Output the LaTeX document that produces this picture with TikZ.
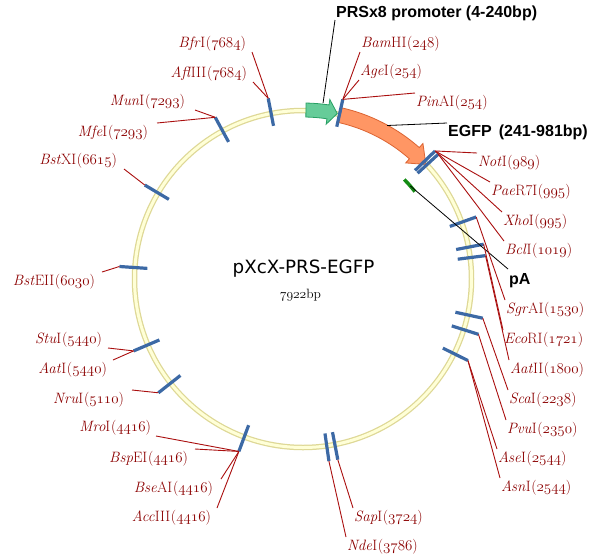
\RequirePackage{fix-cm}
\documentclass[tikz,border=0pt]{standalone}
\usepackage{fontspec}
\newfontfamily\titlefont{DejaVu Sans}
\newfontfamily\featfont{Liberation Sans}
\definecolor{siteText}{RGB}{140,0,0}
\definecolor{leadRed}{RGB}{170,15,15}
\definecolor{tickBlue}{RGB}{60,105,165}
\definecolor{circEdge}{RGB}{222,216,150}
\definecolor{circFill}{RGB}{255,255,215}
\definecolor{promFill}{RGB}{102,204,153}
\definecolor{promEdge}{RGB}{40,160,100}
\definecolor{egfpFill}{RGB}{255,150,100}
\definecolor{egfpEdge}{RGB}{220,100,50}
\definecolor{paGreen}{RGB}{20,140,20}
\newcommand\enz[3]{\textit{#1}#2\kern0.6pt(\legacyoldstylenums{#3})}
\newcommand\sitetick[2]{%
  \coordinate (#1i) at ({#2-90}:156);
  \coordinate (#1o) at ({#2-90}:184);
  \draw[tickline] (#1i) -- (#1o);}
\tikzset{
  sitetxt/.style={inner xsep=1pt, inner ysep=1.5pt, text height=12.3pt, text depth=2.9pt,
    text=siteText, font=\fontsize{15}{17}\selectfont},
  rsite/.style={sitetxt, outer sep=0pt},
  lsite/.style={sitetxt, outer ysep=0pt, outer xsep=5pt},
  tickline/.style={line width=3.2pt, draw=tickBlue},
  leader/.style={draw=leadRed, line width=0.9pt},
  featleader/.style={draw=black, line width=0.8pt},
  featlabel/.style={font=\featfont\bfseries\fontsize{16}{19}\selectfont, inner sep=1pt,
    text height=12pt, text depth=1.5pt},
  promstyle/.style={fill=promFill, draw=promEdge, line width=0.8pt},
  egfpstyle/.style={fill=egfpFill, draw=egfpEdge, line width=0.8pt},
}
\begin{document}
\begin{tikzpicture}[x=1pt,y=-1pt]
\useasboundingbox (0,0) rectangle (600,558);
\fill[white] (0,0) rectangle (600,558);
\begin{scope}[shift={(303,279)}]
  % backbone
  \draw[line width=5.5pt, circEdge] (0,0) circle (168.5);
  \draw[line width=3pt, circFill] (0,0) circle (168.5);
  % PRSx8 promoter arrow
  \filldraw[promstyle] (-89:176) arc[start angle=-89, end angle=-81.5, radius=176]
    -- (-81.5:181.5) -- (-78.3:169) -- (-81.5:156.5) -- (-81.5:162)
    arc[start angle=-81.5, end angle=-89, radius=162] -- cycle;
  % EGFP arrow
  \filldraw[egfpstyle] (-77.2:175.5) arc[start angle=-77.2, end angle=-48.5, radius=175.5]
    -- (-48.5:181) -- (-43:168) -- (-48.5:155) -- (-48.5:160.5)
    arc[start angle=-48.5, end angle=-77.2, radius=160.5] -- cycle;
  % pA
  \draw[line width=3.5pt, paGreen] (-44.5:142) arc[start angle=-44.5, end angle=-38, radius=142];
  \coordinate (pPA) at (-41:142);
  \coordinate (pPRS) at ({6.5-90}:177);
  \coordinate (pEGFP) at ({28.7-90}:175);
  % restriction site ticks
  \sitetick{tBam}{12.5}
  \sitetick{tNotA}{45.9}
  \sitetick{tNotB}{47.3}
  \sitetick{tSgr}{70.3}
  \sitetick{tEco}{79.1}
  \sitetick{tAatB}{82.7}
  \sitetick{tSca}{102.3}
  \sitetick{tPvu}{107.5}
  \sitetick{tAse}{116.3}
  \sitetick{tSap}{169.1}
  \sitetick{tNde}{171.9}
  \sitetick{tMro}{200.4}
  \sitetick{tNru}{231.8}
  \sitetick{tStu}{247.0}
  \sitetick{tBstE}{273.9}
  \sitetick{tBstX}{300.7}
  \sitetick{tMun}{331.5}
  \sitetick{tBfr}{349.1}
\end{scope}

% title
\node[font=\titlefont\fontsize{18.3}{22}\selectfont, anchor=base, inner sep=0pt] (title) at (303.5,273.5) {pXcX-PRS-EGFP};
\node[font=\fontsize{13.5}{15}\selectfont, anchor=base, inner sep=0pt] (size) at (300.5,298.5) {\legacyoldstylenums{7922}bp};

% feature labels
\node[featlabel, anchor=south west] (lPRS) at (335,20) {PRSx8 promoter (4-240bp)};
\node[featlabel, anchor=north west] (lEGFP) at (447,123) {EGFP\, (241-981bp)};
\node[featlabel, anchor=north west, text height=14pt] (lpA) at (508,269) {pA};
\draw[featleader] (pPRS) -- (lPRS.south west);
\draw[featleader] (pEGFP) -- (lEGFP.north west);
\draw[featleader] (pPA) -- (lpA.north west);

% right-side site labels
\node[rsite, anchor=south west] (lBam) at (360,52) {\enz{Bam}{HI}{248}};
\node[rsite, anchor=south west] (lAge) at (359,80) {\enz{Age}{I}{254}};
\node[rsite, anchor=north west] (lPin) at (415,93) {\enz{Pin}{AI}{254}};
\node[rsite, anchor=north west] (lNot) at (477,153) {\enz{Not}{I}{989}};
\node[rsite, anchor=north west] (lPae) at (490,182) {\enz{Pae}{R7I}{995}};
\node[rsite, anchor=north west] (lXho) at (502,212) {\enz{Xho}{I}{995}};
\node[rsite, anchor=north west] (lBcl) at (504,241) {\enz{Bcl}{I}{1019}};
\node[rsite, anchor=north west] (lSgr) at (505,300) {\enz{Sgr}{AI}{1530}};
\node[rsite, anchor=north west] (lEco) at (503,330) {\enz{Eco}{RI}{1721}};
\node[rsite, anchor=north west] (lAatB) at (509,360) {\enz{Aat}{II}{1800}};
\node[rsite, anchor=north west] (lSca) at (508,390) {\enz{Sca}{I}{2238}};
\node[rsite, anchor=north west] (lPvu) at (506,420) {\enz{Pvu}{I}{2350}};
\node[rsite, anchor=north west] (lAse) at (497,449) {\enz{Ase}{I}{2544}};
\node[rsite, anchor=north west] (lAsn) at (500,478) {\enz{Asn}{I}{2544}};
\node[rsite, anchor=north west] (lSap) at (353,508) {\enz{Sap}{I}{3724}};
\node[rsite, anchor=north west] (lNde) at (346,537) {\enz{Nde}{I}{3786}};

% left-side site labels
\node[lsite, anchor=south east] (lBfr) at (252,52) {\enz{Bfr}{I}{7684}};
\node[lsite, anchor=south east] (lAfl) at (253,82) {\enz{Afl}{III}{7684}};
\node[lsite, anchor=south east, outer xsep=9pt] (lMun) at (195,110) {\enz{Mun}{I}{7293}};
\node[lsite, anchor=north east, outer xsep=8pt] (lMfe) at (157,123) {\enz{Mfe}{I}{7293}};
\node[lsite, anchor=south east, outer xsep=6pt] (lBstX) at (124,169) {\enz{Bst}{XI}{6615}};
\node[lsite, anchor=north east, outer xsep=6pt] (lBstE) at (102,272) {\enz{Bst}{EII}{6030}};
\node[lsite, anchor=south east] (lStu) at (108,348) {\enz{Stu}{I}{5440}};
\node[lsite, anchor=north east] (lAat) at (113,360) {\enz{Aat}{I}{5440}};
\node[lsite, anchor=north east, outer xsep=7pt] (lNru) at (132,390) {\enz{Nru}{I}{5110}};
\node[lsite, anchor=south east, outer xsep=4pt] (lMro) at (156,436) {\enz{Mro}{I}{4416}};
\node[lsite, anchor=north east, outer xsep=6pt] (lBsp) at (195,449) {\enz{Bsp}{EI}{4416}};
\node[lsite, anchor=north east, outer xsep=7pt] (lBse) at (221,479) {\enz{Bse}{AI}{4416}};
\node[lsite, anchor=north east] (lAcc) at (217,508) {\enz{Acc}{III}{4416}};

% leaders
\draw[leader] (tBamo) -- (lBam.south west);
\draw[leader] (tBamo) -- (lAge.south west);
\draw[leader] (tBamo) -- (lPin.north west);
\draw[leader] (tNotAo) -- (lNot.north west);
\draw[leader] (tNotAo) -- (lPae.north west);
\draw[leader] (tNotAo) -- (lXho.north west);
\draw[leader] (tNotBo) -- (lBcl.north west);
\draw[leader] (tSgro) -- (lSgr.north west);
\draw[leader] (tEcoo) -- (lEco.north west);
\draw[leader] (tAatBo) -- (lAatB.north west);
\draw[leader] (tScao) -- (lSca.north west);
\draw[leader] (tPvuo) -- (lPvu.north west);
\draw[leader] (tAseo) -- (lAse.north west);
\draw[leader] (tAseo) -- (lAsn.north west);
\draw[leader] (tSapo) -- (lSap.north west);
\draw[leader] (tNdeo) -- (lNde.north west);
\draw[leader] (tBfro) -- (lBfr.south east);
\draw[leader] (tBfro) -- (lAfl.south east);
\draw[leader] (tMuno) -- (lMun.south east);
\draw[leader] (tMuno) -- (lMfe.north east);
\draw[leader] (tBstXo) -- (lBstX.south east);
\draw[leader] (tBstEo) -- (lBstE.north east);
\draw[leader] (tStuo) -- (lStu.south east);
\draw[leader] (tStuo) -- (lAat.north east);
\draw[leader] (tNruo) -- (lNru.north east);
\draw[leader] (tMroo) -- (lMro.south east);
\draw[leader] (tMroo) -- (lBsp.north east);
\draw[leader] (tMroo) -- (lBse.north east);
\draw[leader] (tMroo) -- (lAcc.north east);
\end{tikzpicture}
\end{document}
